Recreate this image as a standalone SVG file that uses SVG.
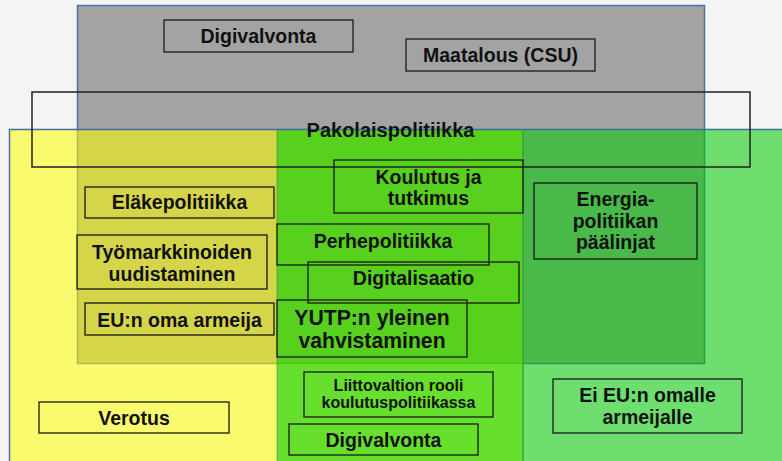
<svg xmlns="http://www.w3.org/2000/svg" width="782" height="461" viewBox="0 0 782 461">
<style>
.box{fill:none;stroke:#1a1a1a;stroke-width:1.3}
.t{font-family:"Liberation Sans",Arial,sans-serif;font-weight:bold;font-size:19.5px;fill:#111;text-anchor:middle}
.s{font-size:16px}
.b{font-size:21.2px}
</style>
<rect x="0" y="0" width="782" height="461" fill="#f4f4f4"/>
<g id="areas">
<rect id="gray-area" x="77.5" y="5.5" width="627" height="358" fill="#a3a3a3" stroke="#4a70a8" stroke-width="1.5"/>
<rect id="yellow-area" x="9" y="129" width="268" height="340" fill="#ffff00" fill-opacity="0.55"/>
<rect id="green-area" x="277" y="129" width="246" height="340" fill="#47da00" fill-opacity="0.815"/>
<rect id="lightgreen-area" x="523" y="129" width="270" height="340" fill="#00cc00" fill-opacity="0.55"/>
<line x1="9" y1="129.5" x2="782" y2="129.5" stroke="#3f6f9f" stroke-width="1.5"/>
<line x1="9.5" y1="129" x2="9.5" y2="461" stroke="#4a74b0" stroke-width="1.5"/>
<line x1="277" y1="129" x2="277" y2="461" stroke="#4a7a60" stroke-width="0.8" stroke-opacity="0.7"/>
<line x1="523" y1="129" x2="523" y2="461" stroke="#36a63e" stroke-width="1.5"/>
</g>
<g id="pakolaispolitiikka">
<rect x="32" y="92" width="718" height="75" fill="none" stroke="#222" stroke-width="1.5"/>
<text class="t" x="390.5" y="137" style="font-size:20px">Pakolaispolitiikka</text>
</g>
<g id="connectors"></g>
<g id="digivalvonta-top"><rect class="box" x="164" y="20" width="189" height="32"/><text class="t" x="258.5" y="43.3">Digivalvonta</text></g>
<g id="maatalous"><rect class="box" x="406" y="39" width="189" height="32"/><text class="t" x="500.5" y="62.3">Maatalous (CSU)</text></g>
<g id="elakepolitiikka"><rect class="box" x="85" y="187" width="189" height="31"/><text class="t" x="179.5" y="209">Eläkepolitiikka</text></g>
<g id="koulutus"><rect class="box" x="334" y="160" width="189" height="53"/><text class="t" x="428.5" y="184">Koulutus ja</text><text class="t" x="428.5" y="205">tutkimus</text></g>
<g id="energia"><rect class="box" x="534" y="183" width="163" height="76"/><text class="t" x="615.5" y="206">Energia-</text><text class="t" x="615.5" y="227.5">politiikan</text><text class="t" x="615.5" y="249">päälinjat</text></g>
<g id="perhepolitiikka"><rect class="box" x="277" y="224" width="212" height="41"/><text class="t" x="383" y="248">Perhepolitiikka</text></g>
<g id="digitalisaatio"><rect class="box" x="308" y="262" width="211" height="41"/><text class="t" x="413.5" y="285">Digitalisaatio</text></g>
<g id="yutp"><rect class="box" x="277" y="300" width="190" height="57"/><text class="t b" x="372" y="325">YUTP:n yleinen</text><text class="t b" x="372" y="348">vahvistaminen</text></g>
<g id="tyomarkkinat"><rect class="box" x="77" y="235" width="190" height="54"/><text class="t" x="172" y="259">Työmarkkinoiden</text><text class="t" x="172" y="280.5">uudistaminen</text></g>
<g id="eu-armeija"><rect class="box" x="85" y="303" width="189" height="32"/><text class="t" x="179.5" y="327">EU:n oma armeija</text></g>
<g id="verotus"><rect class="box" x="39" y="402" width="190" height="31"/><text class="t" x="134" y="425">Verotus</text></g>
<g id="liittovaltio"><rect class="box" x="304" y="372" width="189" height="45"/><text class="t s" x="398.5" y="391">Liittovaltion rooli</text><text class="t s" x="398.5" y="408">koulutuspolitiikassa</text></g>
<g id="digivalvonta-bottom"><rect class="box" x="289" y="424" width="189" height="31"/><text class="t" x="383.5" y="447">Digivalvonta</text></g>
<g id="ei-eu-armeija"><rect class="box" x="553" y="379" width="189" height="54"/><text class="t" x="647.5" y="402">Ei EU:n omalle</text><text class="t" x="647.5" y="424">armeijalle</text></g>
</svg>
